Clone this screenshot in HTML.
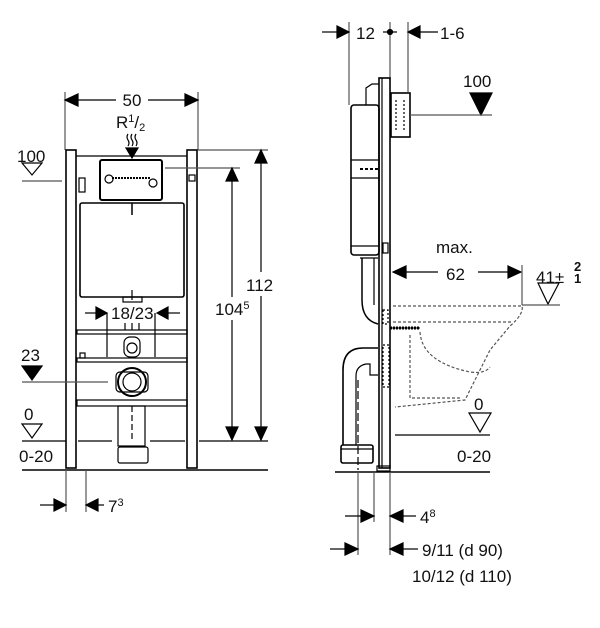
<!DOCTYPE html>
<html><head><meta charset="utf-8"><style>
html,body{margin:0;padding:0;background:#fff;}
svg{display:block;}
text{font-family:"Liberation Sans",sans-serif;fill:#111;}
</style></head><body>
<svg width="600" height="628" viewBox="0 0 600 628" xmlns="http://www.w3.org/2000/svg">
<g stroke="#000" fill="none" stroke-width="1.2">
<!-- LEFT VIEW -->
<line x1="65" y1="92" x2="65" y2="150" stroke="#555"/>
<line x1="198" y1="92" x2="198" y2="150" stroke="#555"/>
<path d="M65,100 L78,94 L78,106z" fill="#000"/>
<path d="M198,100 L185,94 L185,106z" fill="#000"/>
<line x1="65" y1="100" x2="116" y2="100"/><line x1="148" y1="100" x2="198" y2="100"/>
<path d="M128,134 q-2,3 0,6 q2,3 0,6 M132,134 q-2,3 0,6 q2,3 0,6 M136,134 q-2,3 0,6 q2,3 0,6"/>
<path d="M126,148 L138,148 L132,158z" fill="#000"/>
<rect x="66" y="150" width="10" height="318" stroke-width="1.6"/>
<rect x="187" y="150" width="10" height="318" stroke-width="1.6"/>
<line x1="76" y1="156" x2="187" y2="156"/>
<rect x="100" y="160" width="62" height="40" rx="2" stroke-width="2"/>
<line x1="112" y1="178" x2="150" y2="178" stroke-dasharray="2,1" stroke-width="2"/>
<circle cx="109" cy="179" r="4"/><circle cx="153" cy="183" r="4"/>
<rect x="79" y="178" width="6" height="14"/><rect x="189" y="175" width="6" height="6"/>
<rect x="80" y="203" width="104" height="94" rx="2" stroke-width="1.6"/>
<line x1="132" y1="203" x2="132" y2="215" stroke-width="1.5"/>
<line x1="132" y1="290" x2="132" y2="300"/>
<rect x="123" y="297" width="19" height="5"/>
<line x1="85" y1="313" x2="97" y2="313"/><path d="M107,313 L96,307 L96,319z" fill="#000"/>
<line x1="168" y1="313" x2="180" y2="313"/><path d="M157,313 L168,307 L168,319z" fill="#000"/>
<line x1="107" y1="313" x2="107" y2="357"/><line x1="155" y1="313" x2="155" y2="357"/>
<line x1="125" y1="323" x2="125" y2="330"/><line x1="132" y1="323" x2="132" y2="330"/><line x1="139" y1="323" x2="139" y2="330"/>
<rect x="77" y="330" width="110" height="4"/>
<rect x="77" y="358" width="110" height="4"/>
<rect x="124" y="337" width="16" height="20" rx="6"/><circle cx="132" cy="348" r="5"/>
<rect x="80" y="353" width="5" height="5"/>
<circle cx="132" cy="382" r="14" stroke-width="2"/><circle cx="132" cy="382" r="9"/>
<rect x="116" y="372" width="32" height="20" rx="4"/>
<rect x="77" y="400" width="110" height="6"/>
<rect x="118" y="406" width="27" height="40"/>
<line x1="132" y1="406" x2="132" y2="440" stroke-dasharray="6,3"/>
<rect x="118" y="447" width="30" height="16" rx="2"/>
<path d="M22,163 L42,163 L32,175z"/>
<line x1="22" y1="181" x2="62" y2="181" stroke="#555"/>
<path d="M22,366 L42,366 L32,380z" fill="#000"/>
<line x1="22" y1="382" x2="108" y2="382" stroke="#555"/>
<path d="M22,424 L42,424 L32,438z"/>
<line x1="22" y1="441" x2="66" y2="441"/><line x1="78" y1="441" x2="112" y2="441"/><line x1="150" y1="441" x2="185" y2="441"/><line x1="199" y1="441" x2="268" y2="441"/>
<line x1="22" y1="470" x2="268" y2="470" stroke-width="1.6"/>
<line x1="198" y1="150" x2="268" y2="150" stroke="#555"/>
<line x1="165" y1="168" x2="240" y2="168" stroke="#555"/>
<line x1="261" y1="150" x2="261" y2="272"/><line x1="261" y1="296" x2="261" y2="440"/>
<path d="M261,150 L255,163 L267,163z M261,440 L255,427 L267,427z" fill="#000"/>
<line x1="232" y1="168" x2="232" y2="297"/><line x1="232" y1="320" x2="232" y2="440"/>
<path d="M232,168 L226,181 L238,181z M232,440 L226,427 L238,427z" fill="#000"/>
<line x1="66" y1="470" x2="66" y2="512" stroke="#555"/><line x1="86" y1="470" x2="86" y2="512" stroke="#555"/>
<line x1="40" y1="505" x2="55" y2="505"/><path d="M66,505 L54,499 L54,511z" fill="#000"/>
<line x1="98" y1="505" x2="104" y2="505"/><path d="M86,505 L98,499 L98,511z" fill="#000"/>

<!-- RIGHT VIEW -->
<line x1="349" y1="22" x2="349" y2="105" stroke="#555"/>
<line x1="390" y1="22" x2="390" y2="80" stroke="#555"/>
<line x1="408" y1="22" x2="408" y2="92" stroke="#555"/>
<line x1="322" y1="32" x2="338" y2="32"/><path d="M349,32 L337,26 L337,38z" fill="#000"/>
<circle cx="390" cy="32" r="2.5" fill="#000"/><line x1="383" y1="32" x2="397" y2="32"/>
<line x1="420" y1="32" x2="438" y2="32"/><path d="M408,32 L420,26 L420,38z" fill="#000"/>
<rect x="379" y="78" width="11" height="390" stroke-width="1.6"/>
<line x1="382" y1="78" x2="382" y2="468"/>
<rect x="391" y="93" width="19" height="44" stroke-width="1.6"/>
<line x1="396" y1="100" x2="396" y2="130" stroke-dasharray="2,2"/><line x1="404" y1="100" x2="404" y2="130" stroke-dasharray="2,2"/>
<path d="M366,105 L366,88 L372,84 L379,84" />
<rect x="351" y="105" width="28" height="150" rx="3" stroke-width="1.6"/>
<line x1="351" y1="160" x2="379" y2="160"/><line x1="351" y1="178" x2="379" y2="178"/>
<line x1="360" y1="169" x2="378" y2="169" stroke-dasharray="3,2" stroke-width="2"/>
<line x1="351" y1="246" x2="379" y2="246"/>
<rect x="383" y="243" width="5" height="10"/>
<path d="M362,258 L362,300 q0,20 16,24" stroke-width="1.5"/><path d="M374,258 L374,305"/>
<line x1="360" y1="258" x2="378" y2="258"/>
<path d="M343,445 L343,370 q0,-22 20,-22 L378,348" stroke-width="1.6"/>
<path d="M356,445 L356,376 q0,-10 10,-12 L370,364 L370,375 L378,375"/>
<line x1="358" y1="380" x2="358" y2="470" stroke-dasharray="8,3"/>
<rect x="341" y="445" width="32" height="18" rx="2" stroke-width="1.6"/>
<line x1="341" y1="449" x2="373" y2="449"/>
<rect x="383" y="345" width="6" height="42" stroke-dasharray="2,2"/>
<rect x="383" y="310" width="5" height="14" stroke-dasharray="2,2"/>
<line x1="390" y1="328" x2="420" y2="328" stroke-width="3" stroke-dasharray="2,1"/>
<line x1="390" y1="328" x2="420" y2="328" stroke-width="1"/>
<path d="M470,93 L492,93 L481,115z" fill="#000"/>
<line x1="410" y1="115" x2="492" y2="115" stroke="#555"/>
<line x1="393" y1="272" x2="438" y2="272"/><line x1="478" y1="272" x2="521" y2="272"/>
<path d="M393,272 L406,266 L406,278z M521,272 L508,266 L508,278z" fill="#000"/>
<line x1="522" y1="265" x2="522" y2="305" stroke="#555"/>
<path d="M538,283 L559,283 L548,304z"/>
<line x1="522" y1="305" x2="560" y2="305" stroke="#555"/>
<g stroke="#555" stroke-dasharray="3,2">
<path d="M393,306 L522,306 q2,8 -12,20 L490,350 q-10,20 -25,50 L395,407"/>
<path d="M393,322 L512,322"/>
<path d="M410,335 L410,398 L460,398"/>
<path d="M420,332 q2,30 50,40 q15,2 20,-5"/>
</g>
<path d="M469,413 L491,413 L480,432z"/>
<line x1="395" y1="435" x2="490" y2="435"/>
<line x1="335" y1="472" x2="490" y2="472" stroke-width="1.6"/>
<rect x="377" y="466" width="13" height="5"/>
<line x1="358" y1="472" x2="358" y2="555" stroke="#555"/>
<line x1="374" y1="472" x2="374" y2="522" stroke="#555"/>
<line x1="390" y1="472" x2="390" y2="555" stroke="#555"/>
<line x1="345" y1="516" x2="362" y2="516"/><path d="M374,516 L361,510 L361,522z" fill="#000"/>
<line x1="402" y1="516" x2="416" y2="516"/><path d="M390,516 L403,510 L403,522z" fill="#000"/>
<line x1="330" y1="549" x2="346" y2="549"/><path d="M358,549 L345,543 L345,555z" fill="#000"/>
<line x1="402" y1="549" x2="418" y2="549"/><path d="M390,549 L403,543 L403,555z" fill="#000"/>
</g>
<g font-size="17">
<text x="132" y="106" text-anchor="middle">50</text>
<text x="116" y="128">R<tspan font-size="11" dy="-6">1</tspan><tspan dy="6">/</tspan><tspan font-size="11" dy="3">2</tspan></text>
<text x="17" y="162">100</text>
<text x="21" y="361">23</text>
<text x="24" y="420">0</text>
<text x="19" y="462">0-20</text>
<rect x="246" y="273" width="32" height="22" fill="#fff"/>
<text x="246" y="291">112</text>
<text x="215" y="315">104<tspan font-size="11" dy="-6">5</tspan></text>
<text x="111" y="319">18/23</text>
<text x="108" y="512">7<tspan font-size="11" dy="-6">3</tspan></text>
<text x="356" y="39">12</text>
<text x="440" y="39">1-6</text>
<text x="463" y="87">100</text>
<text x="436" y="253">max.</text>
<text x="446" y="280">62</text>
<text x="536" y="283">41±</text>
<text x="574" y="271" font-size="13" font-weight="bold">2</text><text x="574" y="283" font-size="13" font-weight="bold">1</text>
<text x="474" y="410">0</text>
<text x="457" y="462">0-20</text>
<text x="420" y="523">4<tspan font-size="11" dy="-6">8</tspan></text>
<text x="422" y="556">9/11 (d 90)</text>
<text x="412" y="582">10/12 (d 110)</text>
</g>
</svg>
</body></html>
